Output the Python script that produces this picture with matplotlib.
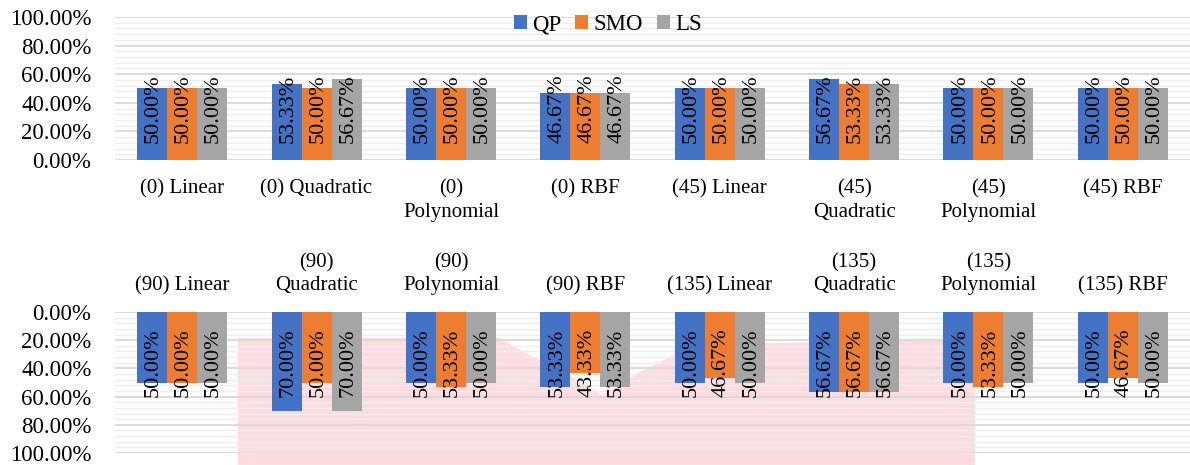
import matplotlib
matplotlib.use("Agg")
import matplotlib.pyplot as plt
import numpy as np
from matplotlib.patches import Polygon
from matplotlib.ticker import PercentFormatter, MultipleLocator

plt.rcParams['font.family'] = ['Liberation Serif', 'DejaVu Serif']

# data
series = ["QP", "SMO", "LS"]
colors = ["#4472C4", "#ED7D31", "#A5A5A5"]

top_labels = ["(0) Linear", "(0) Quadratic", "(0)\nPolynomial", "(0) RBF",
              "(45) Linear", "(45)\nQuadratic", "(45)\nPolynomial", "(45) RBF"]
top_qp = [0.5000, 0.5333, 0.5000, 0.4667, 0.5000, 0.5667, 0.5000, 0.5000]
top_smo = [0.5000, 0.5000, 0.5000, 0.4667, 0.5000, 0.5333, 0.5000, 0.5000]
top_ls = [0.5000, 0.5667, 0.5000, 0.4667, 0.5000, 0.5333, 0.5000, 0.5000]

bottom_labels = ["(90) Linear", "(90)\nQuadratic", "(90)\nPolynomial", "(90) RBF",
                 "(135) Linear", "(135)\nQuadratic", "(135)\nPolynomial", "(135) RBF"]
bottom_qp = [0.5000, 0.7000, 0.5000, 0.5333, 0.5000, 0.5667, 0.5000, 0.5000]
bottom_smo = [0.5000, 0.5000, 0.5333, 0.4333, 0.4667, 0.5667, 0.5333, 0.4667]
bottom_ls = [0.5000, 0.7000, 0.5000, 0.5333, 0.5000, 0.5667, 0.5000, 0.5000]

W, H = 1190, 465
fig = plt.figure(figsize=(W / 100, H / 100), dpi=100)

# faint pink shape behind the lower panel (pixel coords of the picture)
pink_px = [(238, 338), (500, 338), (520, 350), (560, 370), (602, 395),
           (640, 372), (680, 352), (705, 344), (975, 340), (975, 465), (238, 465)]
pink = Polygon([(x / W, 1 - y / H) for x, y in pink_px], closed=True,
               transform=fig.transFigure, facecolor="#FFDCE0", edgecolor="none",
               zorder=-1)
fig.patches.append(pink)

ax1 = fig.add_axes([115 / W, 1 - 160 / H, 1 - 115 / W, 143 / H])
ax2 = fig.add_axes([115 / W, 1 - 453 / H, 1 - 115 / W, 141 / H])

x = np.arange(8)
bw = 0.223


def draw_panel(ax, labels, values, inverted):
    ax.set_facecolor("none")
    for i, (vals, c, name) in enumerate(zip(values, colors, series)):
        xs = x + (i - 1) * bw
        ax.bar(xs, vals, width=bw, color=c, label=name, zorder=2)
        for xi, v in zip(xs, vals):
            ax.annotate(f"{v * 100:.2f}%", xy=(xi, 0),
                        xytext=(1, -12 if inverted else 12), textcoords="offset points",
                        rotation=90, ha="center", va="top" if inverted else "bottom",
                        fontsize=16, color="black", zorder=3)
    ax.set_xlim(-0.5, 7.5)
    if inverted:
        ax.set_ylim(1.0, 0.0)
        ax.xaxis.tick_top()
    else:
        ax.set_ylim(0.0, 1.0)
    ax.yaxis.set_major_locator(MultipleLocator(0.2))
    ax.yaxis.set_minor_locator(MultipleLocator(0.04))
    ax.yaxis.set_major_formatter(PercentFormatter(1.0, decimals=2))
    ax.set_xticks(x)
    ax.set_xticklabels(labels, fontsize=15, linespacing=1.3)
    ax.tick_params(axis="both", which="both", length=0)
    ax.tick_params(axis="y", labelsize=16.5, pad=17)
    ax.tick_params(axis="x", pad=12 if inverted else 14)
    ax.grid(axis="y", which="major", color="#D9D9D9", linewidth=1.3, zorder=0)
    ax.grid(axis="y", which="minor", color="#EEEEEE", linewidth=1.0, zorder=0)
    ax.set_axisbelow(True)
    for s in ax.spines.values():
        s.set_visible(False)


draw_panel(ax1, top_labels, [top_qp, top_smo, top_ls], False)
draw_panel(ax2, bottom_labels, [bottom_qp, bottom_smo, bottom_ls], True)

handles, names = ax1.get_legend_handles_labels()
fig.legend(handles, names, loc="center", bbox_to_anchor=(608 / W, 1 - 25 / H),
           ncol=3, frameon=False, fontsize=16.5, handlelength=0.55, handleheight=0.55,
           handletextpad=0.25, columnspacing=0.6, borderpad=0)

fig.savefig("out.png", dpi=100)
